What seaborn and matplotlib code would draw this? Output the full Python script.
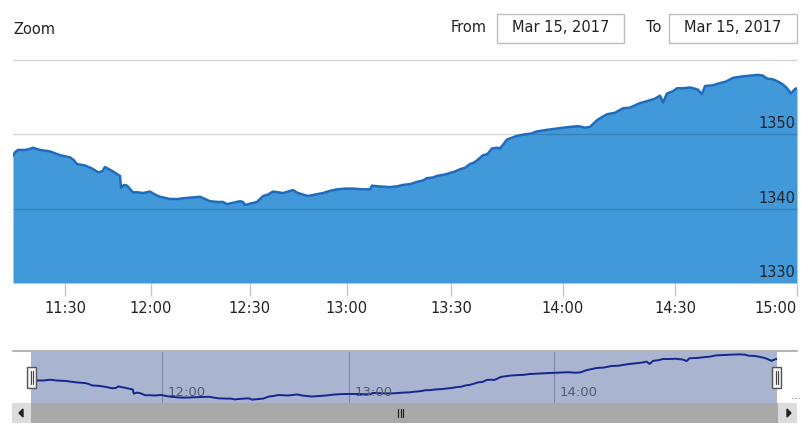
import numpy as np
import pandas as pd
import matplotlib.pyplot as plt
import seaborn as sns
from matplotlib.patches import Rectangle, Polygon
from matplotlib.lines import Line2D

# ordinal position of each point (points are evenly spaced, gaps skipped) and price
idx = [0, 2, 5, 12, 16, 20, 27, 37, 47, 57, 61, 64, 72, 79, 85, 89, 92, 96,
       100, 107, 108, 111, 114, 120, 125, 130, 137, 142, 147, 157, 165, 170,
       178, 187, 192, 197, 205, 210, 214, 220, 227, 230, 232, 238, 244, 247,
       250, 255, 260, 265, 270, 275, 280, 285, 290, 295, 302, 310, 317, 324,
       333, 340, 350, 357, 359, 365, 377, 384, 390, 397, 404, 410, 414, 420,
       424, 432, 437, 442, 447, 452, 457, 461, 465, 470, 474, 479, 484, 487,
       490, 494, 498, 504, 512, 518, 524, 534, 545, 557, 565, 572, 577, 584,
       590, 594, 602, 610, 617, 627, 635, 642, 647, 650, 654, 660, 664, 670,
       677, 683, 685, 689, 692, 700, 707, 713, 720, 730, 737, 745, 750, 754,
       760, 765, 770, 774, 778, 782, 784]
price = [1347.1, 1347.6, 1347.9, 1347.9, 1348.0, 1348.2, 1347.9, 1347.7,
         1347.2, 1346.9, 1346.5, 1346.0, 1345.8, 1345.4, 1344.9, 1345.0,
         1345.6, 1345.3, 1345.0, 1344.4, 1342.8, 1343.2, 1343.1, 1342.2,
         1342.2, 1342.1, 1342.3, 1341.9, 1341.6, 1341.3, 1341.3, 1341.4,
         1341.5, 1341.6, 1341.3, 1341.0, 1340.9, 1340.9, 1340.6, 1340.8,
         1341.0, 1340.9, 1340.5, 1340.7, 1340.9, 1341.3, 1341.7, 1341.9,
         1342.3, 1342.2, 1342.1, 1342.3, 1342.5, 1342.1, 1341.9, 1341.7,
         1341.9, 1342.1, 1342.4, 1342.6, 1342.7, 1342.7, 1342.6, 1342.6,
         1343.1, 1343.0, 1342.9, 1343.0, 1343.2, 1343.3, 1343.6, 1343.8,
         1344.1, 1344.2, 1344.4, 1344.6, 1344.8, 1345.0, 1345.3, 1345.5,
         1346.0, 1346.2, 1346.6, 1347.2, 1347.3, 1348.1, 1348.2, 1348.1,
         1348.6, 1349.3, 1349.5, 1349.8, 1350.0, 1350.1, 1350.4, 1350.6,
         1350.8, 1351.0, 1351.1, 1350.9, 1351.0, 1351.9, 1352.4, 1352.7,
         1352.9, 1353.5, 1353.6, 1354.2, 1354.5, 1354.8, 1355.2, 1354.3,
         1355.5, 1355.8, 1356.2, 1356.2, 1356.3, 1356.1, 1356.0, 1355.4,
         1356.5, 1356.6, 1356.9, 1357.1, 1357.6, 1357.8, 1357.9, 1358.0,
         1357.9, 1357.5, 1357.4, 1357.1, 1356.7, 1356.2, 1355.5, 1356.1,
         1356.2]

tick_pos = [52, 138, 237, 334, 438, 550, 662, 784]
tick_labels = ["11:30", "12:00", "12:30", "13:00", "13:30", "14:00", "14:30", "15:00"]
nav_tick_pos = [138, 334, 550]
nav_tick_labels = ["12:00", "13:00", "14:00"]
y_ticks = [1330, 1340, 1350]
y_grid = [1340, 1350, 1360]
date_from = "Mar 15, 2017"
date_to = "Mar 15, 2017"

sns.set_style("white")
plt.rcParams["font.family"] = ["DejaVu Sans"]

W, H = 810, 430


def box(x0, y0, x1, y1):
    return [x0 / W, 1 - y1 / H, (x1 - x0) / W, (y1 - y0) / H]


df = pd.DataFrame({"idx": idx, "price": price})
fig = plt.figure(figsize=(8.1, 4.3), dpi=100)

# main chart
ax = fig.add_axes(box(13, 60, 797, 283))
ax.fill_between(df["idx"], df["price"], 1330, color="#4299d9", lw=0, zorder=1)
sns.lineplot(data=df, x="idx", y="price", ax=ax, color="#1f6cbd", lw=1.8,
             zorder=3, legend=False)
ax.set_xlim(0, 784)
ax.set_ylim(1330, 1360)
for v in y_grid:
    ax.axhline(v, color=(0, 0, 0, 0.16), lw=1, zorder=2, clip_on=False)
for v in y_ticks:
    ax.text(0.998, v + 0.4, str(v), transform=ax.get_yaxis_transform(),
            ha="right", va="bottom", fontsize=10.5, color="#222222", zorder=4)
ax.set_yticks([])
ax.set_xticks(tick_pos, tick_labels)
ax.tick_params(axis="x", bottom=True, length=9, width=1, color="#c8c8c8",
               pad=4, labelsize=10.5, labelcolor="#222222")
ax.get_xticklabels()[-1].set_ha("right")
ax.set_xlabel("")
ax.set_ylabel("")
for s in ax.spines.values():
    s.set_visible(False)

# header
fig.text(13 / W, 1 - 30 / H, "Zoom", fontsize=10.5, color="#222222", va="center")
fig.text(487 / W, 1 - 28 / H, "From", fontsize=10.5, color="#222222", va="center", ha="right")
fig.text(661 / W, 1 - 28 / H, "To", fontsize=10.5, color="#222222", va="center", ha="right")
for x0, x1, txt in [(497, 624, date_from), (669, 797, date_to)]:
    fig.add_artist(Rectangle((x0 / W, 1 - 43 / H), (x1 - x0) / W, 29 / H,
                             transform=fig.transFigure, facecolor="white",
                             edgecolor="#bdbdbd", lw=1))
    fig.text((x0 + x1) / 2 / W, 1 - 28 / H, txt, fontsize=10.5, color="#222222",
             va="center", ha="center")

# navigator
nav = fig.add_axes(box(31, 351, 777, 403))
nav.set_facecolor("#a9b4d1")
sns.lineplot(data=df, x="idx", y="price", ax=nav, color="#13288a", lw=1.4,
             legend=False)
nav.set_xlim(0, 784)
nav.set_ylim(min(price) - 1.3, max(price) + 1.3)
for p, lab in zip(nav_tick_pos, nav_tick_labels):
    nav.axvline(p, color="#7c86a4", lw=0.8, zorder=0)
    nav.text(p + 6, 0.2, lab, transform=nav.get_xaxis_transform(),
             fontsize=9.5, color="#555b6e", va="center", ha="left")
nav.set_xticks([])
nav.set_yticks([])
nav.set_xlabel("")
nav.set_ylabel("")
for s in nav.spines.values():
    s.set_visible(False)

fig.add_artist(Line2D([13 / W, 797 / W], [1 - 350.5 / H] * 2, color="#b5b5b5", lw=1.5))
fig.text(796 / W, 1 - 396 / H, "...", fontsize=8, color="#777777", va="center", ha="center")

# handles
for hx in (27, 772):
    fig.add_artist(Rectangle((hx / W, 1 - 388 / H), 9 / W, 21 / H,
                             transform=fig.transFigure, facecolor="#f2f2f2",
                             edgecolor="#555555", lw=1))
    for dx in (3.5, 5.5):
        fig.add_artist(Line2D([(hx + dx) / W] * 2, [1 - 384 / H, 1 - 371 / H],
                              color="#444444", lw=0.8))

# scrollbar
fig.add_artist(Rectangle((12 / W, 1 - 423 / H), 785 / W, 20 / H,
                         transform=fig.transFigure, facecolor="#a9a9a9", lw=0))
for bx in (12, 778):
    fig.add_artist(Rectangle((bx / W, 1 - 423 / H), 19 / W, 20 / H,
                             transform=fig.transFigure, facecolor="#dcdcdc", lw=0))
fig.add_artist(Polygon([(19 / W, 1 - 413 / H), (23 / W, 1 - 409 / H), (23 / W, 1 - 417 / H)],
                       closed=True, transform=fig.transFigure, color="#222222"))
fig.add_artist(Polygon([(791 / W, 1 - 413 / H), (787 / W, 1 - 409 / H), (787 / W, 1 - 417 / H)],
                       closed=True, transform=fig.transFigure, color="#222222"))
for gx in (398, 400.5, 403):
    fig.add_artist(Line2D([gx / W] * 2, [1 - 417 / H, 1 - 409 / H], color="#222222", lw=0.9))

fig.savefig("out.png", dpi=100)
